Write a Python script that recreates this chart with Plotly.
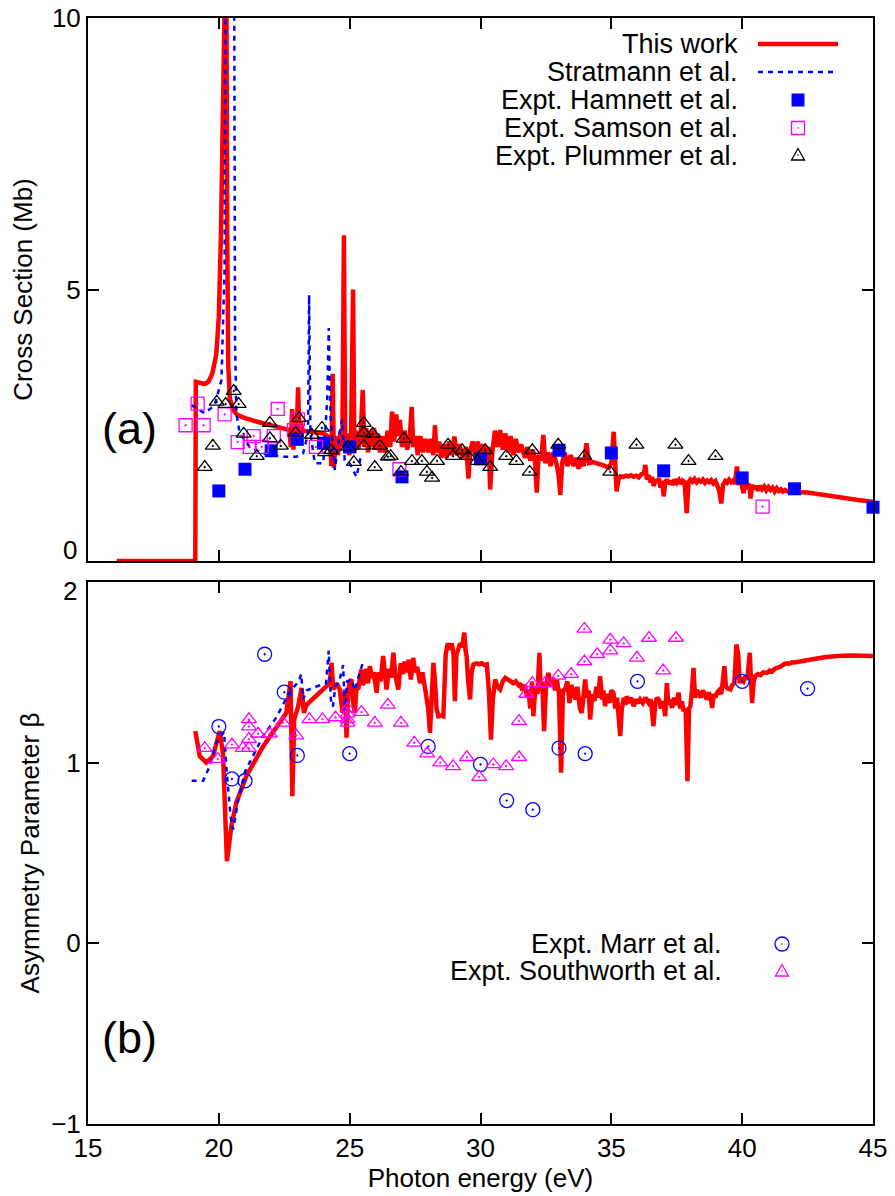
import plotly.graph_objects as go

# ---------------- DATA ----------------
# (a) Cross section: This work (red solid)
cs_work_e = [16.1, 19.1, 19.12, 19.3, 19.46, 19.6, 19.75, 19.9, 20.0, 20.08, 20.14, 20.2, 20.28, 20.32, 20.36, 20.42,
             20.55, 20.7, 21.0, 21.5, 22.0, 22.4, 22.7, 22.75, 22.8, 22.85, 22.9, 22.97, 23.03, 23.08, 23.13, 23.2,
             23.5, 23.8, 24.0, 24.15, 24.25, 24.3, 24.35, 24.4, 24.47, 24.55, 24.65, 24.72, 24.78, 24.83, 24.9, 24.98,
             25.05, 25.13, 25.18, 25.25, 25.33, 25.42, 25.5, 25.56, 25.63, 25.7, 25.78, 25.85, 25.93, 26.0, 26.08,
             26.16, 26.25, 26.35, 26.45, 26.55, 26.62, 26.7, 26.78, 26.85, 26.92, 27.0, 27.1, 27.2, 27.3, 27.37,
             27.43, 27.52, 27.6, 27.7, 27.8, 27.9, 28.0, 28.1, 28.2, 28.26, 28.32, 28.42, 28.5, 28.6, 28.7, 28.8,
             28.9, 29.0, 29.1, 29.2, 29.3, 29.45, 29.54, 29.6, 29.7, 29.8, 29.9, 30.0, 30.1, 30.2, 30.32, 30.37,
             30.45, 30.55, 30.65, 30.75, 30.85, 30.95, 31.05, 31.15, 31.25, 31.35, 31.45, 31.55, 31.7, 31.8, 31.9,
             32.0, 32.08, 32.15, 32.22, 32.32, 32.4, 32.48, 32.58, 32.68, 32.78, 32.9, 32.98, 33.05, 33.12, 33.22,
             33.32, 33.45, 33.55, 33.65, 33.75, 33.85, 33.95, 34.05, 34.15, 34.3, 34.5, 34.7, 34.9, 35.0, 35.09,
             35.15, 35.2, 35.27, 35.35, 35.45, 35.55, 35.65, 35.75, 35.85, 35.95, 36.05, 36.15, 36.25, 36.3, 36.36,
             36.42, 36.5, 36.56, 36.62, 36.68, 36.75, 36.82, 36.88, 36.94, 37.0, 37.06, 37.12, 37.2, 37.28, 37.35,
             37.42, 37.5, 37.58, 37.65, 37.72, 37.8, 37.88, 37.95, 38.02, 38.1, 38.18, 38.26, 38.34, 38.42, 38.5,
             38.58, 38.66, 38.74, 38.82, 38.9, 38.98, 39.05, 39.12, 39.2, 39.27, 39.35, 39.42, 39.5, 39.58, 39.65,
             39.72, 39.8, 39.86, 39.92, 39.98, 40.05, 40.12, 40.2, 40.27, 40.32, 40.38, 40.45, 40.52, 40.6, 40.68,
             40.76, 40.84, 40.92, 41.0, 41.08, 41.16, 41.24, 41.32, 41.4, 41.48, 41.56, 41.64, 41.75, 41.85, 42.0,
             42.5, 43.0, 43.5, 44.0, 44.5, 45.0]
cs_work_v = [0, 0, 3.3, 3.28, 3.26, 3.3, 3.45, 3.8, 4.5, 6.0, 8.5, 12, 12, 6.0, 3.6, 3.0,
             2.78, 2.69, 2.63, 2.56, 2.5, 2.45, 2.41, 2.1, 2.8, 2.05, 2.6, 2.3, 3.2, 2.25, 2.55, 2.4,
             2.38, 2.36, 2.35, 2.3, 2.25, 1.75, 3.45, 1.72, 2.3, 1.95, 2.4, 2.1, 6.0, 2.0, 2.35, 1.95,
             2.2, 5.0, 2.0, 2.4, 2.05, 2.3, 3.15, 2.1, 2.45, 2.0, 2.4, 2.1, 2.45, 2.05, 2.35,
             2.0, 2.3, 2.0, 2.4, 2.1, 2.75, 2.2, 2.7, 2.3, 2.6, 2.1, 2.4, 2.05, 2.3, 2.84,
             2.1, 2.3, 1.95, 2.3, 2.0, 2.25, 2.0, 2.25, 1.95, 2.5, 2.0, 2.2, 1.9, 2.15, 1.9, 2.2,
             1.95, 2.29, 1.95, 2.15, 1.9, 2.1, 1.52, 2.0, 2.2, 1.95, 2.2, 1.9, 2.15, 1.95, 2.1, 1.32,
             2.0, 2.4, 2.1, 2.41, 2.05, 2.35, 2.0, 2.3, 1.95, 2.25, 2.0, 2.15, 1.9, 2.1, 1.85,
             2.05, 1.85, 1.26, 1.95, 1.85, 2.32, 1.8, 2.0, 1.75, 2.0, 1.8, 1.6, 1.22, 1.8, 2.0,
             1.75, 1.95, 1.75, 1.9, 1.7, 1.9, 1.75, 2.17, 1.8, 1.82, 1.8, 1.76, 1.72, 1.8, 2.38,
             1.5, 1.28, 1.5, 1.56, 1.55, 1.57, 1.56, 1.58, 1.55, 1.57, 1.54, 1.6, 1.62, 1.77, 1.5,
             1.58, 1.45, 1.55, 1.38, 1.5, 1.45, 1.52, 1.35, 1.48, 1.19, 1.45, 1.5, 1.42, 1.48, 1.4,
             1.5, 1.44, 1.49, 1.42, 1.48, 1.45, 0.88, 1.45, 1.5, 1.46, 1.51, 1.45, 1.49, 1.46, 1.5,
             1.44, 1.48, 1.45, 1.49, 1.43, 1.47, 1.4, 1.3, 1.06, 1.4, 1.47, 1.44, 1.5, 1.45, 1.48,
             1.42, 1.74, 1.4, 1.55, 1.35, 1.25, 1.45, 1.38, 1.42, 1.15, 1.4, 1.33, 1.38, 1.3, 1.38,
             1.32, 1.37, 1.3, 1.36, 1.31, 1.35, 1.28, 1.34, 1.29, 1.32, 1.28, 1.31, 1.28, 1.29, 1.27,
             1.26, 1.22, 1.19, 1.15, 1.12, 1.09]

# (a) Cross section: Stratmann et al. (blue dotted)
cs_strat_e = [18.95, 19.2, 19.46, 19.84, 20.1, 20.22, 20.26, 20.58, 20.62, 20.67, 20.8, 21.18, 21.69, 22.46,
              22.97, 23.22, 23.41, 23.45, 23.5, 23.67, 23.99, 24.14, 24.2, 24.27, 24.43, 24.62, 24.71, 24.81,
              25.0, 25.26, 25.45]
cs_strat_v = [2.87, 2.8, 2.72, 2.87, 3.33, 5.4, 12, 12, 4.0, 2.72, 2.35, 2.1, 1.98, 1.92,
              1.92, 1.98, 2.35, 4.9, 2.35, 1.8, 1.8, 2.96, 4.29, 2.66, 1.68, 2.35, 2.6, 1.86,
              1.8, 1.55, 1.98]

# (a) Experiments
hamnett_e = [20, 21, 22, 23, 24, 25, 27, 30, 33, 35, 37, 40, 42, 45]
hamnett_v = [1.29, 1.69, 2.03, 2.24, 2.17, 2.1, 1.55, 1.88, 2.04, 1.99, 1.66, 1.53, 1.33, 0.99]

samson_e = [18.73, 19.19, 19.42, 20.22, 20.72, 21.18, 21.33, 21.64, 22.1, 22.25, 22.87, 23.02, 23.71, 26.9, 40.78]
samson_v = [2.5, 2.9, 2.5, 2.7, 2.19, 2.1, 2.3, 2.1, 2.3, 2.8, 2.41, 2.61, 2.1, 1.69, 1.0]

plummer_e = [19.46, 19.77, 19.92, 20.26, 20.57, 20.76, 20.95, 21.45, 21.95, 21.95, 22.37, 22.94, 23.06, 23.56,
             23.94, 24.06, 24.29, 24.93, 25.16, 25.54, 25.54, 25.54, 25.88, 25.96, 26.15, 26.46, 26.57, 27.07,
             26.96, 27.38, 27.76, 27.95, 28.15, 28.34, 28.76, 28.95, 29.3, 29.53, 29.87, 30.18, 30.37, 30.98,
             31.37, 31.98, 31.88, 32.97, 33.97, 34.96, 35.96, 37.45, 37.95, 38.98]
plummer_v = [1.73, 2.12, 2.93, 2.89, 3.13, 2.89, 2.34, 1.93, 2.54, 2.26, 2.12, 2.36, 2.63, 2.32,
             2.45, 2.0, 2.04, 2.1, 1.82, 2.54, 2.36, 2.12, 2.34, 1.73, 2.12, 1.92, 1.93, 2.25,
             1.64, 1.84, 1.84, 1.64, 1.53, 1.84, 2.14, 1.93, 2.04, 1.93, 1.84, 2.04, 1.73, 1.93,
             1.84, 2.04, 1.64, 2.14, 1.93, 1.64, 2.14, 2.14, 1.84, 1.93]

# (b) Asymmetry parameter: This work (red solid)
b_work_e = [19.1, 19.27, 19.52, 19.78, 20.03, 20.16, 20.31, 20.48, 20.67, 21.05, 21.69, 22.2, 22.58, 22.74,
            22.81, 22.88, 23.03, 23.16, 23.25, 23.35, 23.99, 24.24, 24.31, 24.37, 24.5, 24.62, 24.73, 24.82,
            24.88, 24.94, 25.0, 25.07, 25.12, 25.2, 25.26, 25.33, 25.4, 25.45, 25.5, 25.58, 25.64, 25.7, 25.77,
            25.85, 25.92, 26.03, 26.1, 26.18, 26.28, 26.35, 26.41, 26.5, 26.58, 26.67, 26.75, 26.86, 26.95,
            27.03, 27.1, 27.18, 27.26, 27.34, 27.43, 27.5, 27.58, 27.69, 27.78, 27.86, 27.94, 28.0, 28.07,
            28.13, 28.2, 28.26, 28.32, 28.39, 28.48, 28.58, 28.63, 28.67, 28.75, 28.83, 28.9, 28.97, 29.02,
            29.08, 29.15, 29.22, 29.3, 29.38, 29.43, 29.47, 29.53, 29.6, 29.66, 29.73, 29.85, 29.95, 30.05,
            30.15, 30.24, 30.32, 30.4, 30.47, 30.56, 30.65, 30.75, 30.85, 30.95, 31.05, 31.15, 31.25, 31.35,
            31.45, 31.51, 31.6, 31.7, 31.78, 31.83, 31.9, 31.97, 32.02, 32.1, 32.18, 32.25, 32.3, 32.36, 32.43,
            32.5, 32.6, 32.68, 32.76, 32.85, 32.92, 33.0, 33.08, 33.15, 33.23, 33.32, 33.4, 33.48, 33.55,
            33.63, 33.7, 33.8, 33.87, 33.93, 34.0, 34.07, 34.13, 34.19, 34.27, 34.35, 34.43, 34.5, 34.57,
            34.65, 34.7, 34.76, 34.85, 34.93, 35.0, 35.08, 35.15, 35.22, 35.28, 35.34, 35.4, 35.48, 35.55,
            35.59, 35.67, 35.75, 35.85, 35.95, 36.02, 36.1, 36.2, 36.3, 36.42, 36.5, 36.56, 36.61, 36.68,
            36.75, 36.81, 36.9, 36.98, 37.06, 37.12, 37.18, 37.25, 37.32, 37.4, 37.48, 37.57, 37.63, 37.7,
            37.76, 37.84, 37.91, 37.97, 38.02, 38.08, 38.14, 38.2, 38.27, 38.34, 38.42, 38.5, 38.58, 38.65,
            38.72, 38.8, 38.85, 38.92, 38.98, 39.04, 39.12, 39.2, 39.26, 39.32, 39.38, 39.45, 39.55, 39.62,
            39.7, 39.78, 39.85, 39.9, 39.98, 40.05, 40.12, 40.2, 40.29, 40.34, 40.38, 40.44, 40.5, 40.6,
            40.7, 40.8, 40.9, 40.95, 41.05, 41.15, 41.25, 41.35, 41.45, 41.59, 41.7, 41.8, 41.9, 42.0,
            42.23, 42.5, 42.86, 43.2, 43.5, 43.8, 44.14, 44.5, 44.9, 45.0]
b_work_v = [1.175, 1.036, 1.0, 1.036, 1.175, 1.05, 0.455, 0.65, 0.78, 0.925, 1.09, 1.2, 1.276, 1.45,
            0.815, 1.24, 1.31, 1.414, 1.276, 1.32, 1.405, 1.44, 1.553, 1.405, 1.44, 1.405, 1.276, 1.405,
            1.138, 1.387, 1.45, 1.46, 1.35, 1.276, 1.42, 1.405, 1.48, 1.516, 1.43, 1.46, 1.52, 1.44, 1.534,
            1.47, 1.5, 1.387, 1.5, 1.45, 1.59, 1.46, 1.405, 1.52, 1.47, 1.608, 1.48, 1.405, 1.55,
            1.49, 1.56, 1.5, 1.57, 1.46, 1.58, 1.5, 1.53, 1.44, 1.5, 1.43, 1.37, 1.3, 1.165,
            1.4, 1.553, 1.45, 1.3, 1.257, 1.26, 1.257, 1.5, 1.6, 1.66, 1.626, 1.66, 1.6, 1.34,
            1.6, 1.626, 1.66, 1.64, 1.72, 1.62, 1.59, 1.45, 1.35, 1.5, 1.544, 1.55, 1.545, 1.55,
            1.54, 1.544, 1.4, 1.128, 1.35, 1.46, 1.42, 1.405, 1.45, 1.47, 1.46, 1.45, 1.44, 1.45,
            1.43, 1.44, 1.4, 1.43, 1.36, 1.405, 1.3, 1.45, 1.257, 1.42, 1.38, 1.608, 1.4, 1.45, 1.174,
            1.42, 1.497, 1.42, 1.47, 1.4, 1.46, 1.38, 0.944, 1.4, 1.405, 1.45, 1.33, 1.43, 1.387,
            1.35, 1.42, 1.3, 1.276, 1.4, 1.46, 1.36, 1.4, 1.239, 1.38, 1.34, 1.42, 1.36, 1.479,
            1.35, 1.4, 1.313, 1.38, 1.33, 1.4, 1.387, 1.3, 1.36, 1.28, 1.147, 1.3, 1.36, 1.32,
            1.368, 1.33, 1.36, 1.313, 1.35, 1.33, 1.35, 1.33, 1.36, 1.331, 1.35, 1.28, 1.202, 1.33,
            1.36, 1.35, 1.3, 1.34, 1.257, 1.44, 1.32, 1.35, 1.303, 1.36, 1.32, 1.387, 1.3, 1.34,
            1.285, 1.3, 0.898, 1.3, 1.313, 1.4, 1.525, 1.36, 1.4, 1.387, 1.36, 1.4, 1.37, 1.35,
            1.39, 1.36, 1.303, 1.38, 1.36, 1.387, 1.4, 1.38, 1.45, 1.534, 1.42, 1.41, 1.405, 1.43,
            1.44, 1.654, 1.6, 1.442, 1.46, 1.45, 1.479, 1.46, 1.608, 1.45, 1.331, 1.45, 1.479, 1.49,
            1.485, 1.5, 1.495, 1.497, 1.51, 1.505, 1.52, 1.525, 1.53, 1.544, 1.55, 1.548, 1.556, 1.555,
            1.562, 1.57, 1.577, 1.585, 1.59, 1.592, 1.593, 1.592, 1.59, 1.59]

# (b) Stratmann et al. (blue dotted)
b_strat_e = [18.96, 19.4, 19.65, 19.9, 20.2, 20.3, 20.45, 20.55, 20.75, 21.0, 21.35, 21.7, 22.2, 22.7, 23.05,
             23.15, 23.22, 23.35, 23.7, 24.1, 24.2, 24.28, 24.36, 24.45, 24.6, 24.75, 24.82, 24.9, 25.07,
             25.2, 25.35, 25.52]
b_strat_v = [0.9, 0.9, 0.98, 1.11, 1.17, 0.95, 0.7, 0.63, 0.8, 0.95, 1.05, 1.15, 1.25, 1.39, 1.45,
             1.49, 1.35, 1.4, 1.42, 1.44, 1.62, 1.35, 1.31, 1.42, 1.45, 1.54, 1.28, 1.45, 1.46,
             1.4, 1.48, 1.56]

# (b) Experiments
marr_e = [20, 20.5, 21, 21.75, 22.5, 23, 25, 28, 30, 31, 32, 33, 34, 36, 40, 42.5]
marr_v = [1.2, 0.91, 0.9, 1.6, 1.39, 1.04, 1.05, 1.09, 0.99, 0.79, 0.74, 1.08, 1.05, 1.45, 1.45, 1.41]

south_e = [19.46, 19.96, 20.5, 20.92, 21.15, 21.15, 21.15, 21.15, 21.5, 21.95, 22.45, 22.96, 23.46, 23.96,
           24.46, 24.92, 24.92, 24.92, 24.92, 25.45, 25.96, 26.46, 26.96, 27.47, 27.96, 28.46, 28.95, 29.48,
           29.95, 30.49, 30.98, 31.47, 31.47, 31.75, 31.98, 32.47, 32.97, 33.46, 33.97, 33.97, 34.46, 34.96,
           34.96, 35.47, 35.98, 36.44, 36.98, 37.47]
south_v = [1.08, 1.02, 1.1, 1.08, 1.24, 1.2, 1.13, 1.08, 1.16, 1.16, 1.22, 1.15, 1.24, 1.24,
           1.25, 1.3, 1.27, 1.24, 1.22, 1.28, 1.22, 1.32, 1.22, 1.11, 1.05, 1.0, 0.98, 1.03,
           0.92, 0.99, 0.98, 1.03, 1.23, 1.38, 1.44, 1.44, 1.48, 1.49, 1.74, 1.56, 1.6, 1.68,
           1.62, 1.66, 1.58, 1.69, 1.51, 1.69]

x_ticks = [15, 20, 25, 30, 35, 40, 45]
ya_ticks = [0, 5, 10]
ya_text = ["", "5", "10"]      # the "0" label is set slightly above its tick, as in the original
yb_ticks = [-1, 0, 1, 2]
yb_text = ["\u22121", "0", "1", ""]  # the "2" label is set slightly below its tick

# ---------------- STYLE ----------------
RED = "#ff0000"
BLUE = "#0000ff"
MAG = "#ff00ff"
BLK = "#000000"
FONT = "Liberation Sans, Arial, sans-serif"
OFF = 8  # default page body margin
W, H = 895 - OFF, 1196 - OFF
ML, MR, MT, MB = 80, 22, 10, 72
PW = W - ML - MR
PH = H - MT - MB


def pxx(px):
    return (px - OFF - ML) / PW


def pxy(py):
    return (H + OFF - MB - py) / PH


fig = go.Figure()

# panel (a)
fig.add_trace(go.Scatter(x=cs_work_e, y=cs_work_v, mode="lines", line=dict(color=RED, width=4.5),
                         xaxis="x", yaxis="y", showlegend=False))
fig.add_trace(go.Scatter(x=cs_strat_e, y=cs_strat_v, mode="lines",
                         line=dict(color=BLUE, width=2.5, dash="5px,5px"),
                         xaxis="x", yaxis="y", showlegend=False))
fig.add_trace(go.Scatter(x=hamnett_e, y=hamnett_v, mode="markers",
                         marker=dict(symbol="square", size=13, color=BLUE, line=dict(width=0)),
                         xaxis="x", yaxis="y", showlegend=False, cliponaxis=False))
fig.add_trace(go.Scatter(x=samson_e, y=samson_v, mode="markers",
                         marker=dict(symbol="square-open-dot", size=13, color=MAG, line=dict(width=1.3, color=MAG)),
                         xaxis="x", yaxis="y", showlegend=False, cliponaxis=False))
fig.add_trace(go.Scatter(x=plummer_e, y=plummer_v, mode="markers",
                         marker=dict(symbol="triangle-up-open-dot", size=13, color=BLK, line=dict(width=1.3, color=BLK)),
                         xaxis="x", yaxis="y", showlegend=False, cliponaxis=False))

# panel (b)
fig.add_trace(go.Scatter(x=b_work_e, y=b_work_v, mode="lines", line=dict(color=RED, width=4.5),
                         xaxis="x2", yaxis="y2", showlegend=False))
fig.add_trace(go.Scatter(x=b_strat_e, y=b_strat_v, mode="lines",
                         line=dict(color=BLUE, width=2.5, dash="5px,5px"),
                         xaxis="x2", yaxis="y2", showlegend=False))
fig.add_trace(go.Scatter(x=marr_e, y=marr_v, mode="markers",
                         marker=dict(symbol="circle-open-dot", size=14, color=BLUE, line=dict(width=1.3, color=BLUE)),
                         xaxis="x2", yaxis="y2", showlegend=False, cliponaxis=False))
fig.add_trace(go.Scatter(x=south_e, y=south_v, mode="markers",
                         marker=dict(symbol="triangle-up-open-dot", size=13, color=MAG, line=dict(width=1.3, color=MAG)),
                         xaxis="x2", yaxis="y2", showlegend=False, cliponaxis=False))

axis_common = dict(showline=True, linecolor=BLK, linewidth=2, mirror="ticks", ticks="inside",
                   ticklen=11, tickwidth=2, tickcolor=BLK, showgrid=False, zeroline=False,
                   automargin=False, ticklabeloverflow="allow",
                   tickfont=dict(family=FONT, size=26, color=BLK))

fig.update_layout(
    width=W, height=H, margin=dict(l=ML, r=MR, t=MT, b=MB),
    paper_bgcolor="white", plot_bgcolor="white", showlegend=False,
    font=dict(family=FONT, color=BLK),
    xaxis=dict(domain=[0, 1], range=[15, 45], tickvals=x_ticks, showticklabels=False, anchor="y", **axis_common),
    yaxis=dict(domain=[pxy(561), 1], range=[0, 10], tickvals=ya_ticks, ticktext=ya_text, anchor="x",
               ticklabelstandoff=0,
               title=dict(text="Cross Section (Mb)", font=dict(family=FONT, size=26), standoff=16), **axis_common),
    xaxis2=dict(domain=[0, 1], range=[15, 45], tickvals=x_ticks, anchor="y2", matches="x", ticklabelstandoff=0,
                title=dict(text="Photon energy (eV)", font=dict(family=FONT, size=26), standoff=2), **axis_common),
    yaxis2=dict(domain=[0, pxy(582)], range=[-1, 2], tickvals=yb_ticks, ticktext=yb_text, anchor="x2",
                ticklabelstandoff=0,
                title=dict(text="Asymmetry Parameter β", font=dict(family=FONT, size=26), standoff=4), **axis_common),
)

ann = []
shapes = []


def leg_text(text, px_right, py):
    ann.append(dict(text=text, xref="paper", yref="paper", x=pxx(px_right), y=pxy(py),
                    xanchor="right", yanchor="middle", showarrow=False,
                    font=dict(family=FONT, size=27, color=BLK)))


def leg_line(px0, px1, py, color, width, dash=None):
    ln = dict(color=color, width=width)
    if dash:
        ln["dash"] = dash
    shapes.append(dict(type="line", xref="paper", yref="paper", x0=pxx(px0), x1=pxx(px1),
                       y0=pxy(py), y1=pxy(py), line=ln))


def leg_dot(px, py, color):
    shapes.append(dict(type="circle", xref="paper", yref="paper", xsizemode="pixel", ysizemode="pixel",
                       xanchor=pxx(px), yanchor=pxy(py), x0=-0.8, x1=0.8, y0=-0.8, y1=0.8,
                       fillcolor=color, line=dict(width=0)))


def leg_square(px, py, color, filled, s=6.5):
    shapes.append(dict(type="rect", xref="paper", yref="paper", xsizemode="pixel", ysizemode="pixel",
                       xanchor=pxx(px), yanchor=pxy(py), x0=-s, x1=s, y0=-s, y1=s,
                       fillcolor=color if filled else "rgba(0,0,0,0)",
                       line=dict(color=color, width=0 if filled else 1.3)))
    if not filled:
        leg_dot(px, py, color)


def leg_triangle(px, py, color):
    shapes.append(dict(type="path", xref="paper", yref="paper", xsizemode="pixel", ysizemode="pixel",
                       xanchor=pxx(px), yanchor=pxy(py), path="M -6.5,-5 L 6.5,-5 L 0,6.5 Z",
                       fillcolor="rgba(0,0,0,0)", line=dict(color=color, width=1.3)))
    leg_dot(px, py, color)


def leg_circle(px, py, color, r=7):
    shapes.append(dict(type="circle", xref="paper", yref="paper", xsizemode="pixel", ysizemode="pixel",
                       xanchor=pxx(px), yanchor=pxy(py), x0=-r, x1=r, y0=-r, y1=r,
                       fillcolor="rgba(0,0,0,0)", line=dict(color=color, width=1.3)))
    leg_dot(px, py, color)


# legend (a)
leg_text("This work", 740, 44)
leg_line(758, 838, 44, RED, 4.5)
leg_text("Stratmann et al.", 740, 72)
leg_line(758, 834, 72, BLUE, 2.5, "5px,5px")
leg_text("Expt. Hamnett et al.", 740, 100)
leg_square(798, 100, BLUE, True)
leg_text("Expt. Samson et al.", 740, 128)
leg_square(798, 128, MAG, False)
leg_text("Expt. Plummer et al.", 740, 156)
leg_triangle(798, 155, BLK)

# legend (b)
leg_text("Expt. Marr et al.", 724, 944)
leg_circle(782, 944, BLUE)
leg_text("Expt. Southworth et al.", 724, 971)
leg_triangle(782, 971, MAG)

# offset end-of-axis tick labels ("0" of panel a, "2" of panel b)
for txt, py in [("0", 550), ("2", 591)]:
    ann.append(dict(text=txt, xref="paper", yref="paper", x=pxx(79), y=pxy(py), xanchor="right",
                    yanchor="middle", showarrow=False, font=dict(family=FONT, size=26, color=BLK)))

# panel labels
ann.append(dict(text="(a)", xref="paper", yref="paper", x=pxx(129), y=pxy(428), xanchor="center",
                yanchor="middle", showarrow=False, font=dict(family=FONT, size=45, color=BLK)))
ann.append(dict(text="(b)", xref="paper", yref="paper", x=pxx(129), y=pxy(1037), xanchor="center",
                yanchor="middle", showarrow=False, font=dict(family=FONT, size=45, color=BLK)))

fig.update_layout(annotations=ann, shapes=shapes)
fig.write_html("out.html")
